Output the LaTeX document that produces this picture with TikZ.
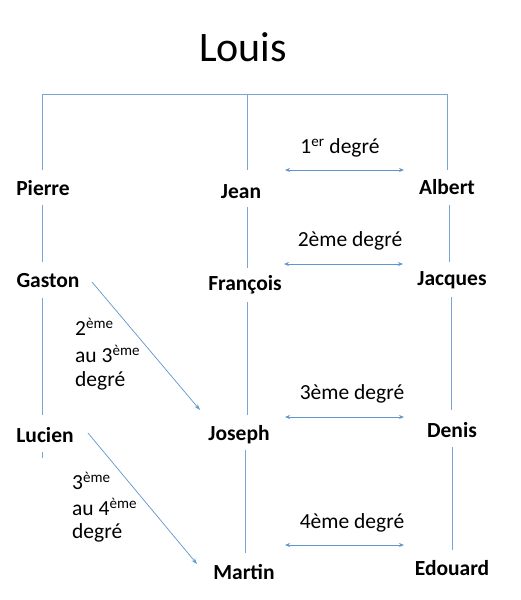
\documentclass[tikz,border=0pt]{standalone}
\usepackage{fontspec}
\setmainfont{Carlito}
\usetikzlibrary{arrows.meta}
\definecolor{lnblue}{RGB}{120,165,210}
\definecolor{arblue}{RGB}{95,150,205}
\tikzset{
  person/.style={font=\fontsize{21.5}{24}\selectfont\bfseries, inner sep=0pt, anchor=center},
  deg/.style={font=\fontsize{21.5}{24}\selectfont, inner sep=0pt, anchor=center},
  link/.style={draw=lnblue, line width=0.8pt},
  darrow/.style={draw=arblue, line width=0.8pt, {Stealth[length=5pt,width=4pt]}-{Stealth[length=5pt,width=4pt]}},
  sarrow/.style={draw=arblue, line width=0.7pt, -{Stealth[length=6pt,width=4pt]}}
}
\begin{document}
\begin{tikzpicture}[x=1pt,y=-1pt]
\useasboundingbox (0,0) rectangle (520,600);
\node[font=\fontsize{42}{46}\selectfont, inner sep=0pt] (louis) at (243,47) {Louis};
% top bar
\coordinate (tl) at (42,94);
\coordinate (tm) at (247,94);
\coordinate (tr) at (447,94);
\coordinate (pt) at (42,170);
\coordinate (jt) at (247,170);
\coordinate (at) at (447,170);
\draw[link] (pt) -- (tl) -- (tr) -- (at);
\draw[link] (tm) -- (jt);
% names
\node[person] (pierre) at (43,188) {Pierre};
\node[person] (jean) at (241,192) {Jean};
\node[person] (albert) at (447,187) {Albert};
\node[person] (gaston) at (48,281) {Gaston};
\node[person] (francois) at (245,285) {François};
\node[person] (jacques) at (452,280) {Jacques};
\node[person] (lucien) at (45,435) {Lucien};
\node[person] (joseph) at (239,435) {Joseph};
\node[person] (denis) at (452,430) {Denis};
\node[person] (martin) at (244,572) {Martin};
\node[person] (edouard) at (452,568) {Edouard};
% vertical links
\coordinate (p1) at (42,205); \coordinate (p2) at (42,262);
\coordinate (g1) at (42,298); \coordinate (g2) at (42,415);
\coordinate (l1) at (42,452); \coordinate (l2) at (42,458);
\draw[link] (p1) -- (p2);
\draw[link] (g1) -- (g2);
\draw[link] (l1) -- (l2);
\coordinate (j1) at (247,207); \coordinate (j2) at (247,268);
\coordinate (f1) at (247,302); \coordinate (f2) at (247,415);
\coordinate (o1) at (245,450); \coordinate (o2) at (245,553);
\draw[link] (j1) -- (j2);
\draw[link] (f1) -- (f2);
\draw[link] (o1) -- (o2);
\coordinate (a1) at (449,205); \coordinate (a2) at (449,262);
\coordinate (c1) at (451,297); \coordinate (c2) at (451,410);
\coordinate (d1) at (452,447); \coordinate (d2) at (452,550);
\draw[link] (a1) -- (a2);
\draw[link] (c1) -- (c2);
\draw[link] (d1) -- (d2);
% double arrows
\coordinate (r1a) at (285,170); \coordinate (r1b) at (404,170);
\coordinate (r2a) at (284,264); \coordinate (r2b) at (403,264);
\coordinate (r3a) at (285,417); \coordinate (r3b) at (404,417);
\coordinate (r4a) at (285,545); \coordinate (r4b) at (404,545);
\draw[darrow] (r1a) -- (r1b);
\draw[darrow] (r2a) -- (r2b);
\draw[darrow] (r3a) -- (r3b);
\draw[darrow] (r4a) -- (r4b);
\node[deg] (d1l) at (340,148) {1\textsuperscript{er} degré};
\node[deg] (d2l) at (350,241) {2ème degré};
\node[deg] (d3l) at (352,394) {3ème degré};
\node[deg] (d4l) at (352,523) {4ème degré};
% diagonal arrows
\coordinate (ga) at (92,282); \coordinate (gb) at (200,410);
\coordinate (la) at (88,433); \coordinate (lb) at (197,564);
\draw[sarrow] (ga) -- (gb);
\draw[sarrow] (la) -- (lb);
\node[deg, anchor=west] (q1) at (75,327) {2\textsuperscript{ème}};
\node[deg, anchor=west] (q2) at (75,354) {au 3\textsuperscript{ème}};
\node[deg, anchor=west] (q3) at (75,381) {degré};
\node[deg, anchor=west] (q4) at (72,481) {3\textsuperscript{ème}};
\node[deg, anchor=west] (q5) at (72,507) {au 4\textsuperscript{ème}};
\node[deg, anchor=west] (q6) at (72,533) {degré};
\end{tikzpicture}
\end{document}
